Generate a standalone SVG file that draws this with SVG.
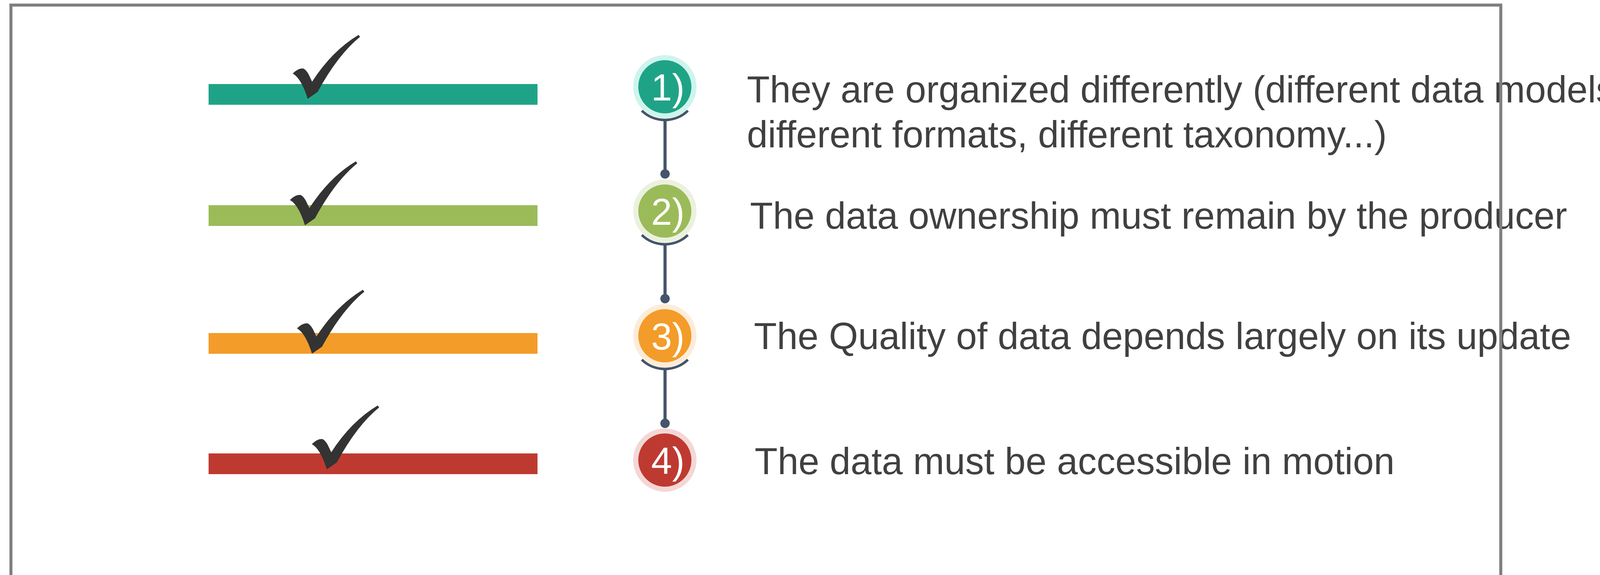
<svg xmlns="http://www.w3.org/2000/svg" xmlns:xlink="http://www.w3.org/1999/xlink" width="4210" height="1471" viewBox="0 0 4210 1471">
  <style>
    .txt { font-family: "Liberation Sans", Arial, sans-serif; font-size: 96px; fill: #404040; }
    .num { font-family: "Liberation Sans", Arial, sans-serif; font-size: 96px; fill: #ffffff; }
    .check { fill: #333333; }
    .conn { stroke: #44546a; fill: none; }
    .arc { stroke-width: 6.5; }
    .stem { stroke-width: 8; }
    .dot { fill: #44546a; }
    .frame { fill: none; stroke: #7f7f7f; stroke-width: 7.7; }
  </style>
  <defs>
    <path id="tick" d="M 749.3,188.3 Q 762,175 775,175 Q 782,176 790,190 L 799,209 Q 850,130 918,89.3 L 921.7,94.3 Q 865,140 813.3,235 L 787.7,252.7 Q 771,200 749.3,188.3 Z"/>
  </defs>
  <rect x="0" y="0" width="4210" height="1471" fill="#ffffff"/>

  <g id="item1">
    <rect x="534" y="215" width="842" height="53" fill="#1fa387"/>
    <use xlink:href="#tick" href="#tick" class="check"/>
    <circle cx="1702" cy="222" r="81" fill="#cdf5ec"/>
    <circle cx="1702" cy="222" r="68" fill="#1fa387"/>
    <text class="num" x="1667" y="257">1)</text>
    <text class="txt" x="1912" y="262">They are organized differently (different data models,</text>
    <text class="txt" x="1912" y="377">different formats, different taxonomy...)</text>
  </g>

  <g id="item2">
    <rect x="534" y="525" width="842" height="53" fill="#9bbb59"/>
    <use xlink:href="#tick" href="#tick" class="check" transform="translate(-7,323.5)"/>
    <circle cx="1702" cy="540" r="81" fill="#ebf1de"/>
    <circle cx="1702" cy="540" r="68" fill="#9bbb59"/>
    <text class="num" x="1667" y="575">2)</text>
    <text class="txt" x="1920" y="585">The data ownership must remain by the producer</text>
  </g>

  <g id="item3">
    <rect x="534" y="852" width="842" height="53" fill="#f39c29"/>
    <use xlink:href="#tick" href="#tick" class="check" transform="translate(11,652)"/>
    <circle cx="1702" cy="859" r="81" fill="#fdecd8"/>
    <circle cx="1702" cy="859" r="68" fill="#f39c29"/>
    <text class="num" x="1667" y="894">3)</text>
    <text class="txt" x="1930" y="893">The Quality of data depends largely on its update</text>
  </g>

  <g id="item4">
    <rect x="534" y="1160" width="842" height="53" fill="#be3a31"/>
    <use xlink:href="#tick" href="#tick" class="check" transform="translate(49,948)"/>
    <circle cx="1702" cy="1177" r="81" fill="#f4d7d5"/>
    <circle cx="1702" cy="1177" r="68" fill="#be3a31"/>
    <text class="num" x="1667" y="1212">4)</text>
    <text class="txt" x="1932" y="1213">The data must be accessible in motion</text>
  </g>

  <g id="connectors">
    <path class="conn arc" d="M 1643,283.1 A 85 85 0 0 0 1761,283.1"/>
    <line class="conn stem" x1="1702.5" y1="306" x2="1702.5" y2="445"/>
    <circle class="dot" cx="1702.5" cy="445" r="12"/>

    <path class="conn arc" d="M 1643,601.1 A 85 85 0 0 0 1761,601.1"/>
    <line class="conn stem" x1="1702.5" y1="624" x2="1702.5" y2="764"/>
    <circle class="dot" cx="1702.5" cy="764" r="12"/>

    <path class="conn arc" d="M 1643,920.1 A 85 85 0 0 0 1761,920.1"/>
    <line class="conn stem" x1="1702.5" y1="943" x2="1702.5" y2="1083"/>
    <circle class="dot" cx="1702.5" cy="1083" r="12"/>
  </g>

  <rect id="frame" class="frame" x="28" y="13" width="3814" height="1520"/>
</svg>
